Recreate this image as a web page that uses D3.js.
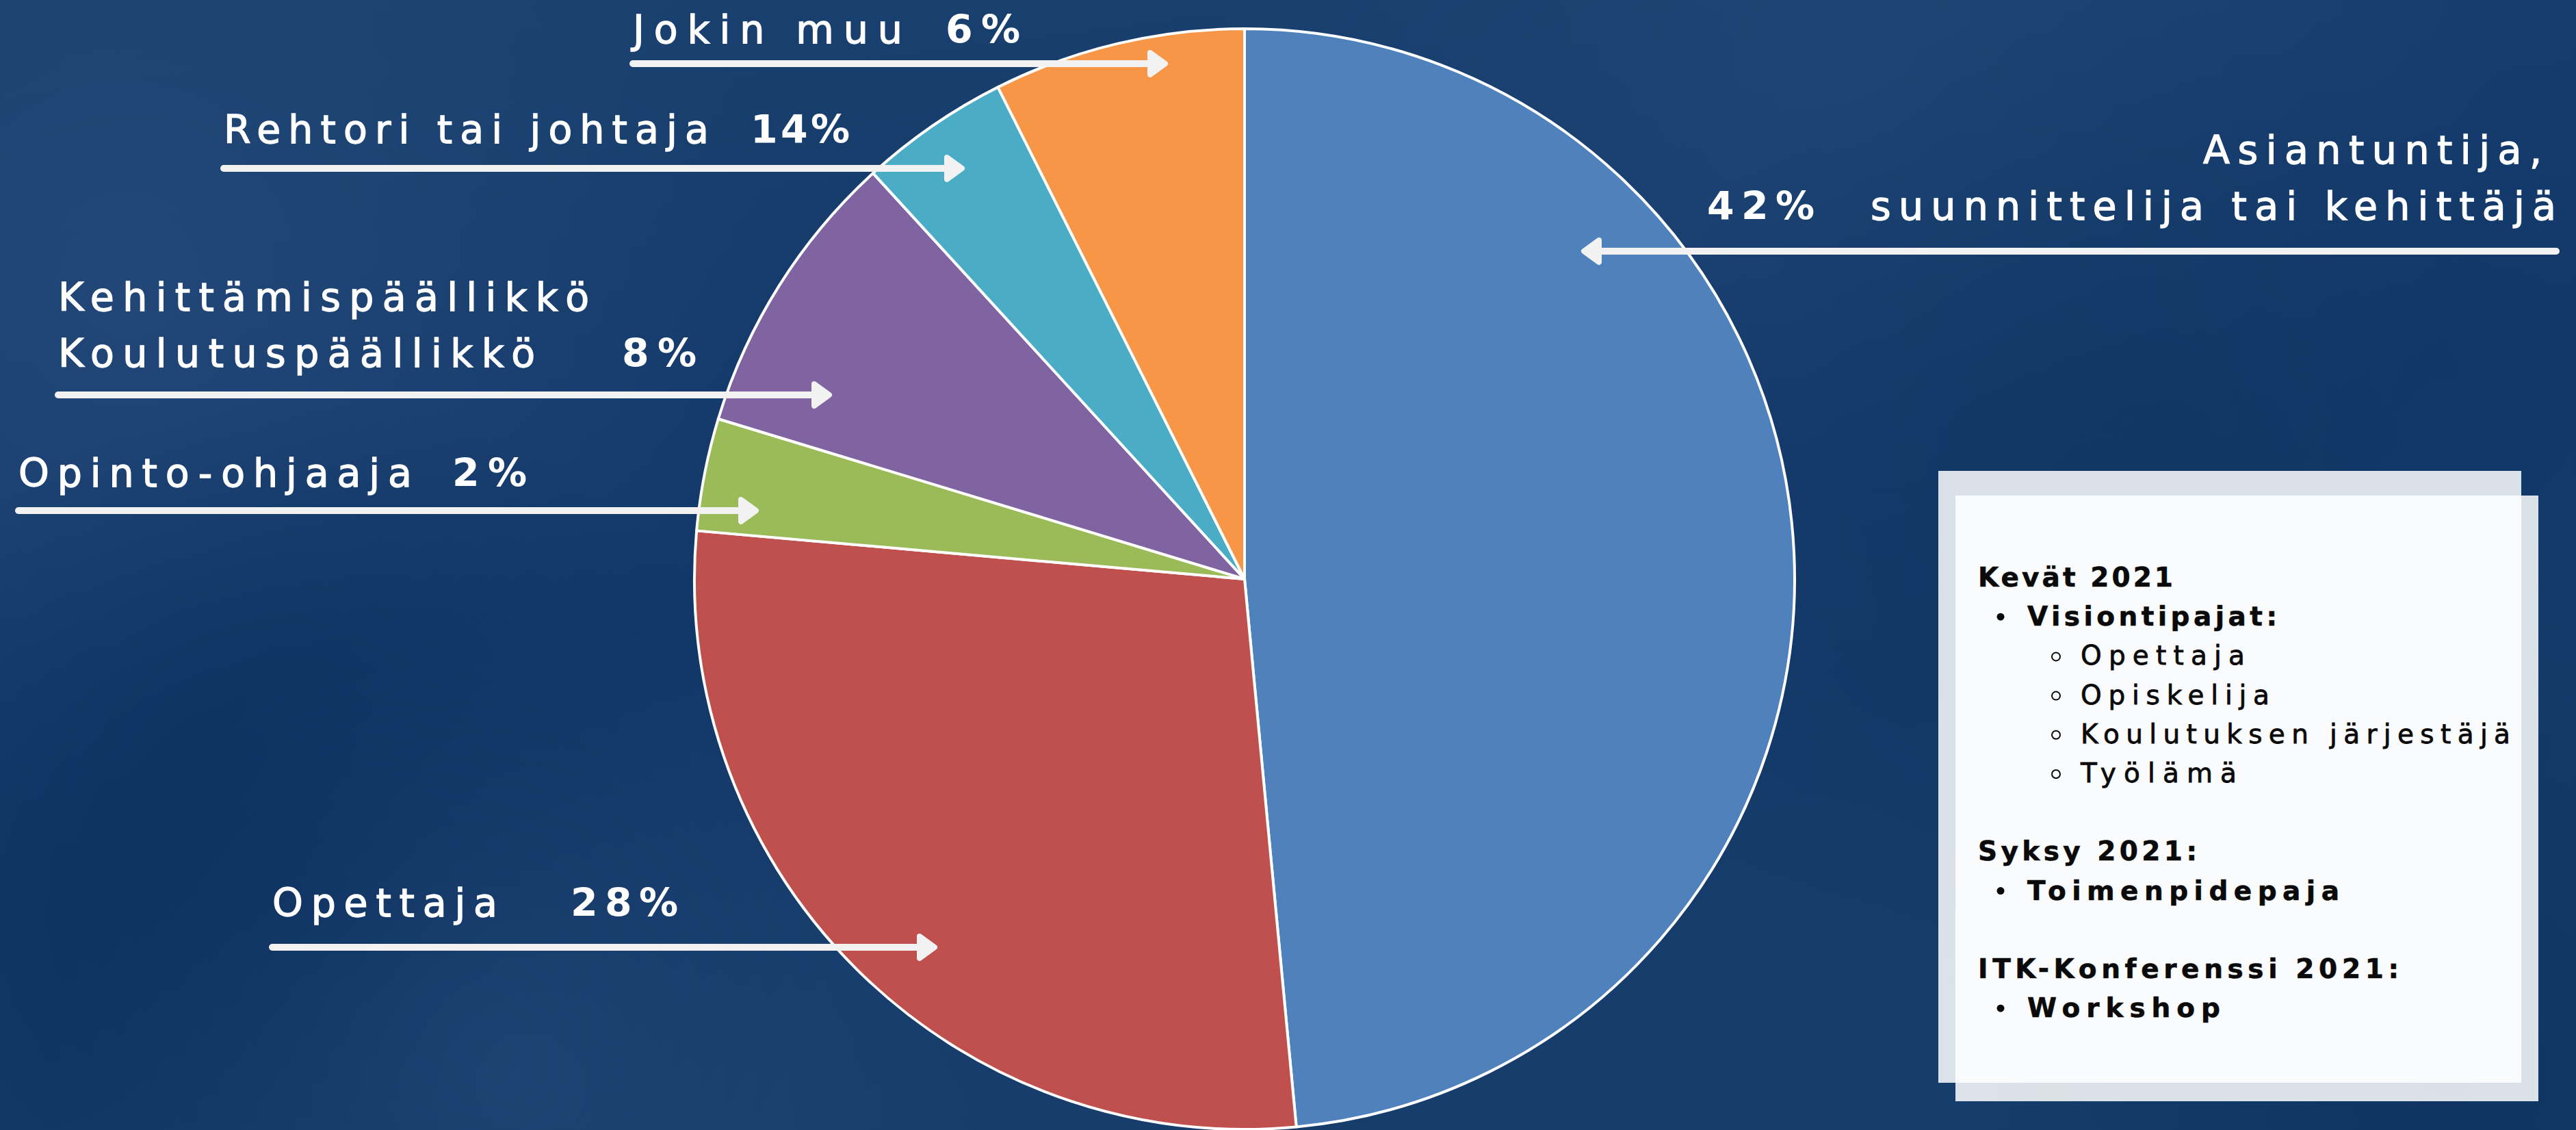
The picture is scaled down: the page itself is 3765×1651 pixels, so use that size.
<!DOCTYPE html>
<html>
<head>
<meta charset="utf-8">
<script src="https://cdn.jsdelivr.net/npm/d3@7"></script>
<style>
  html, body { margin: 0; padding: 0; overflow: hidden; background: #153b6a; }
  svg { display: block; }
</style>
</head>
<body>
<div id="chart"></div>
<script>
// canvas size
const width = 3765,
    height = 1651;

// pie position
const cx = 1819,
    cy = 846,
    radius = 804;

// data, clockwise from 12 o'clock
const categories = ["Asiantuntija", "Opettaja", "Opinto-ohjaaja", "Kehittämispäällikkö", "Rehtori", "Jokin muu"]
const sliceValues = [48.5, 27.9, 3.3, 8.5, 4.4, 7.4]   // slice sizes as drawn
const labelPercents = ["42%", "28%", "2%", "8%", "14%", "6%"]   // what the labels say
const labelNames = [
    ["Asiantuntija,", "suunnittelija tai kehittäjä"],
    ["Opettaja"],
    ["Opinto-ohjaaja"],
    ["Kehittämispäällikkö", "Koulutuspäällikkö"],
    ["Rehtori tai johtaja"],
    ["Jokin muu"]
]
const sliceColors = ["#4f81bd", "#c0504d", "#9bbb59", "#8064a2", "#4bacc6", "#f79646"]

// side box text
const boxItems = [
    { text: "Kevät 2021", level: 0 },
    { text: "Visiontipajat:", level: 1 },
    { text: "Opettaja", level: 2 },
    { text: "Opiskelija", level: 2 },
    { text: "Koulutuksen järjestäjä", level: 2 },
    { text: "Työlämä", level: 2 },
    null,
    { text: "Syksy 2021:", level: 0 },
    { text: "Toimenpidepaja", level: 1 },
    null,
    { text: "ITK-Konferenssi 2021:", level: 0 },
    { text: "Workshop", level: 1 }
]

// label layout (pixel placement of each label block and its arrow)
// names: [x, baseline, width] per line; pct: [x, baseline, width]; arrow: [y, from, tip]
const labelLayout = [
    { names: [[3220, 239, 495], [2734, 321, 1002]], pct: [2495, 321, 157], arrow: [367, 3736, 2311] },
    { names: [[398, 1339, 329]], pct: [834, 1339, 157], arrow: [1384, 398, 1370] },
    { names: [[27, 711, 575]], pct: [661, 711, 109], arrow: [746, 27, 1109] },
    { names: [[85, 454, 776], [85, 536, 697]], pct: [909, 536, 109], arrow: [577, 85, 1216] },
    { names: [[327, 209, 709]], pct: [1097, 209, 145], arrow: [246, 327, 1410] },
    { names: [[925, 63, 394]], pct: [1382, 63, 109], arrow: [93, 925, 1707] }
]

const svg = d3.select("#chart")
    .append("svg")
    .attr("width", width)
    .attr("height", height)

// ---- background: navy with soft light/dark patches
const defs = svg.append("defs")
const bgGrad = defs.append("linearGradient")
    .attr("id", "bg")
    .attr("x1", 0).attr("y1", 0).attr("x2", 0.3).attr("y2", 1)
bgGrad.append("stop").attr("offset", 0).attr("stop-color", "#1a416f")
bgGrad.append("stop").attr("offset", 0.55).attr("stop-color", "#12386a")
bgGrad.append("stop").attr("offset", 1).attr("stop-color", "#163d6b")

svg.append("rect")
    .attr("width", width)
    .attr("height", height)
    .attr("fill", "url(#bg)")

const patches = [
    { id: "p1", cx: 0.05, cy: 0.25, r: 0.25, color: "#24497a", op: 0.8 },
    { id: "p2", cx: 0.12, cy: 0.8, r: 0.2, color: "#082c5a", op: 0.9 },
    { id: "p3", cx: 0.2, cy: 0.95, r: 0.18, color: "#24497a", op: 0.7 },
    { id: "p4", cx: 0.72, cy: 0.05, r: 0.25, color: "#24497a", op: 0.6 },
    { id: "p5", cx: 0.82, cy: 0.45, r: 0.2, color: "#0d3360", op: 0.6 },
    { id: "p6", cx: 0.95, cy: 0.95, r: 0.2, color: "#0b305e", op: 0.7 }
]
patches.forEach(p => {
    const g = defs.append("radialGradient")
        .attr("id", p.id)
        .attr("cx", p.cx).attr("cy", p.cy).attr("r", p.r)
        .attr("gradientTransform", `scale(1,${width / height}) translate(0,${-p.cy + p.cy * height / width})`)
    g.append("stop").attr("offset", 0).attr("stop-color", p.color).attr("stop-opacity", p.op)
    g.append("stop").attr("offset", 1).attr("stop-color", p.color).attr("stop-opacity", 0)
    svg.append("rect")
        .attr("width", width)
        .attr("height", height)
        .attr("fill", `url(#${p.id})`)
})

// ---- pie
const pie = d3.pie()
    .sort(null)
    .value(d => d)

const arc = d3.arc()
    .innerRadius(0)
    .outerRadius(radius)

const pieG = svg.append("g")
    .attr("transform", `translate(${cx},${cy})`)

pieG.selectAll("path")
    .data(pie(sliceValues))
    .join("path")
    .attr("d", arc)
    .attr("fill", (d, i) => sliceColors[i])
    .attr("stroke", "#ffffff")
    .attr("stroke-width", 4)
    .attr("stroke-linejoin", "round")

// ---- labels + arrows
const labelFont = "'DejaVu Sans', 'Open Sans', sans-serif"
const arrowColor = "#f2f2f2"
const labelsG = svg.append("g")

labelLayout.forEach((lay, i) => {
    lay.names.forEach((n, j) => {
        labelsG.append("text")
            .attr("x", n[0])
            .attr("y", n[1])
            .attr("textLength", n[2])
            .attr("lengthAdjust", "spacing")
            .attr("font-family", labelFont)
            .attr("font-size", 57)
            .attr("font-weight", 400)
            .attr("fill", "#ffffff")
            .attr("stroke", "#ffffff")
            .attr("stroke-width", 1.3)   // a bit heavier, like a medium weight
            .text(labelNames[i][j])
    })
    labelsG.append("text")
        .attr("x", lay.pct[0])
        .attr("y", lay.pct[1])
        .attr("textLength", lay.pct[2])
        .attr("lengthAdjust", "spacing")
        .attr("font-family", labelFont)
        .attr("font-size", 57)
        .attr("font-weight", 700)
        .attr("fill", "#ffffff")
        .text(labelPercents[i])

    // arrow shaft + head
    const [ay, from, tip] = lay.arrow
    const dir = tip > from ? 1 : -1
    labelsG.append("line")
        .attr("x1", from)
        .attr("x2", tip - dir * 18)
        .attr("y1", ay)
        .attr("y2", ay)
        .attr("stroke", arrowColor)
        .attr("stroke-width", 10)
        .attr("stroke-linecap", "round")
    const back = tip - dir * 26
    labelsG.append("path")
        .attr("d", `M${back},${ay - 16} L${tip - dir * 4},${ay} L${back},${ay + 16} Z`)
        .attr("fill", arrowColor)
        .attr("stroke", arrowColor)
        .attr("stroke-width", 8)
        .attr("stroke-linejoin", "round")
})

// ---- side box
const boxG = svg.append("g")
boxG.append("rect")
    .attr("x", 2833).attr("y", 688)
    .attr("width", 852).attr("height", 894)
    .attr("fill", "#ffffff")
    .attr("fill-opacity", 0.85)
boxG.append("rect")
    .attr("x", 2858).attr("y", 724)
    .attr("width", 852).attr("height", 885)
    .attr("fill", "#ffffff")
    .attr("fill-opacity", 0.85)

const boxWidths = {
    "Kevät 2021": 285, "Visiontipajat:": 365, "Opettaja": 240, "Opiskelija": 276,
    "Koulutuksen järjestäjä": 628, "Työlämä": 228, "Syksy 2021:": 320,
    "Toimenpidepaja": 456, "ITK-Konferenssi 2021:": 615, "Workshop": 282
}
const levelX = [2891, 2963, 3041]
const lineStep = 57.2,
    firstBase = 857

boxItems.forEach((item, i) => {
    if (!item) return
    const y = firstBase + i * lineStep
    boxG.append("text")
        .attr("x", levelX[item.level])
        .attr("y", y)
        .attr("textLength", boxWidths[item.text])
        .attr("lengthAdjust", "spacing")
        .attr("font-family", labelFont)
        .attr("font-size", 39)
        .attr("font-weight", item.level < 2 ? 700 : 400)
        .attr("fill", "#0a0a0a")
        .attr("stroke", "#0a0a0a")
        .attr("stroke-width", item.level < 2 ? 0.6 : 0.8)
        .text(item.text)
    if (item.level === 1) {
        boxG.append("circle")
            .attr("cx", 2924).attr("cy", y - 13)
            .attr("r", 5.5)
            .attr("fill", "#0a0a0a")
    } else if (item.level === 2) {
        boxG.append("circle")
            .attr("cx", 3005).attr("cy", y - 12)
            .attr("r", 6)
            .attr("fill", "none")
            .attr("stroke", "#0a0a0a")
            .attr("stroke-width", 2)
    }
})
</script>
</body>
</html>
